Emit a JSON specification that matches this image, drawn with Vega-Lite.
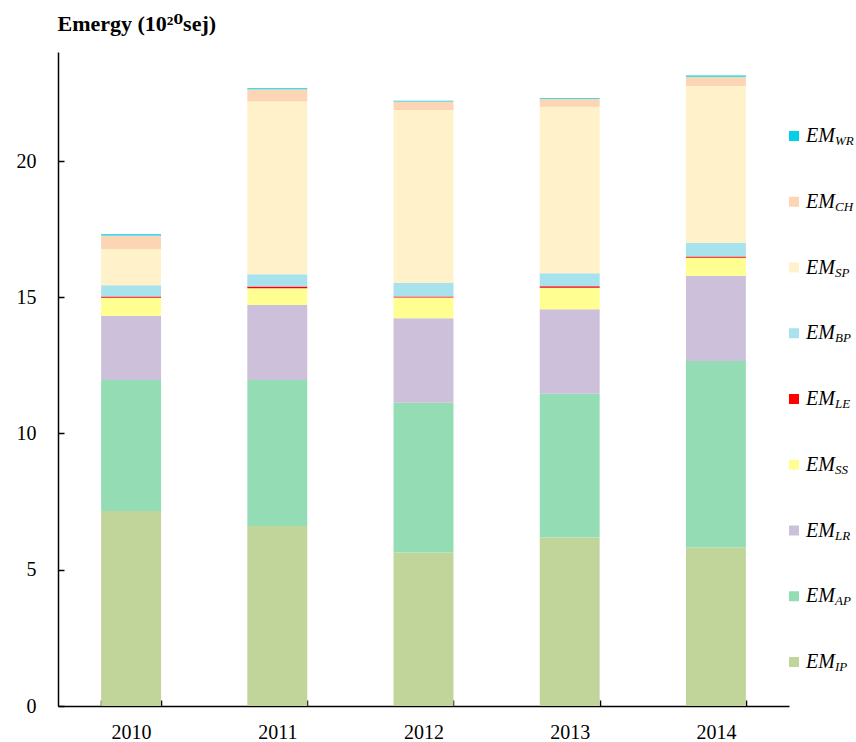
{
  "$schema": "https://vega.github.io/schema/vega-lite/v6.json",
  "background": "white",
  "padding": {"left": 16, "top": 12, "right": 0, "bottom": 0},
  "config": {
    "font": "Liberation Serif",
    "view": {"stroke": null},
    "concat": {"spacing": 0}
  },
  "datasets": {
    "emergy": [
      {"year": "2010", "series": "IP", "value": 7.16},
      {"year": "2010", "series": "AP", "value": 4.80},
      {"year": "2010", "series": "LR", "value": 2.36},
      {"year": "2010", "series": "SS", "value": 0.66},
      {"year": "2010", "series": "LE", "value": 0.05},
      {"year": "2010", "series": "BP", "value": 0.41},
      {"year": "2010", "series": "SP", "value": 1.33},
      {"year": "2010", "series": "CH", "value": 0.50},
      {"year": "2010", "series": "WR", "value": 0.04},
      {"year": "2011", "series": "IP", "value": 6.61},
      {"year": "2011", "series": "AP", "value": 5.35},
      {"year": "2011", "series": "LR", "value": 2.76},
      {"year": "2011", "series": "SS", "value": 0.61},
      {"year": "2011", "series": "LE", "value": 0.06},
      {"year": "2011", "series": "BP", "value": 0.45},
      {"year": "2011", "series": "SP", "value": 6.34},
      {"year": "2011", "series": "CH", "value": 0.45},
      {"year": "2011", "series": "WR", "value": 0.04},
      {"year": "2012", "series": "IP", "value": 5.63},
      {"year": "2012", "series": "AP", "value": 5.50},
      {"year": "2012", "series": "LR", "value": 3.10},
      {"year": "2012", "series": "SS", "value": 0.76},
      {"year": "2012", "series": "LE", "value": 0.04},
      {"year": "2012", "series": "BP", "value": 0.50},
      {"year": "2012", "series": "SP", "value": 6.34},
      {"year": "2012", "series": "CH", "value": 0.31},
      {"year": "2012", "series": "WR", "value": 0.03},
      {"year": "2013", "series": "IP", "value": 6.18},
      {"year": "2013", "series": "AP", "value": 5.28},
      {"year": "2013", "series": "LR", "value": 3.10},
      {"year": "2013", "series": "SS", "value": 0.79},
      {"year": "2013", "series": "LE", "value": 0.05},
      {"year": "2013", "series": "BP", "value": 0.48},
      {"year": "2013", "series": "SP", "value": 6.11},
      {"year": "2013", "series": "CH", "value": 0.29},
      {"year": "2013", "series": "WR", "value": 0.03},
      {"year": "2014", "series": "IP", "value": 5.83},
      {"year": "2014", "series": "AP", "value": 6.83},
      {"year": "2014", "series": "LR", "value": 3.13},
      {"year": "2014", "series": "SS", "value": 0.66},
      {"year": "2014", "series": "LE", "value": 0.05},
      {"year": "2014", "series": "BP", "value": 0.50},
      {"year": "2014", "series": "SP", "value": 5.75},
      {"year": "2014", "series": "CH", "value": 0.34},
      {"year": "2014", "series": "WR", "value": 0.05}
    ],
    "series": [
      {"series": "IP", "sub": "IP", "rank": 1},
      {"series": "AP", "sub": "AP", "rank": 2},
      {"series": "LR", "sub": "LR", "rank": 3},
      {"series": "SS", "sub": "SS", "rank": 4},
      {"series": "LE", "sub": "LE", "rank": 5},
      {"series": "BP", "sub": "BP", "rank": 6},
      {"series": "SP", "sub": "SP", "rank": 7},
      {"series": "CH", "sub": "CH", "rank": 8},
      {"series": "WR", "sub": "WR", "rank": 9}
    ]
  },
  "hconcat": [
    {
      "width": 731,
      "height": 654,
      "data": {"name": "emergy"},
      "transform": [
        {"lookup": "series", "from": {"data": {"name": "series"}, "key": "series", "fields": ["rank"]}}
      ],
      "mark": {"type": "bar"},
      "encoding": {
        "x": {
          "field": "year", "type": "ordinal",
          "scale": {"paddingInner": 0.59, "paddingOuter": 0.295},
          "axis": {
            "title": null, "labelAngle": 0, "tickBand": "extent",
            "tickSize": -6, "tickWidth": 1.5, "tickColor": "black",
            "domainColor": "black", "domainWidth": 1.5,
            "labelFont": "Liberation Serif", "labelFontSize": 20, "labelColor": "black",
            "labelPadding": 22
          }
        },
        "y": {
          "field": "value", "type": "quantitative", "stack": "zero",
          "scale": {"domain": [0, 24], "nice": false},
          "axis": {
            "values": [0, 5, 10, 15, 20], "grid": false,
            "tickSize": -6, "tickWidth": 1.5, "tickColor": "black",
            "domainColor": "black", "domainWidth": 1.5,
            "labelFont": "Liberation Serif", "labelFontSize": 20, "labelColor": "black",
            "labelPadding": 28,
            "title": "Emergy (10²⁰sej)", "titleFont": "Liberation Serif, DejaVu Serif", "titleFontSize": 22,
            "titleFontWeight": "bold", "titleColor": "black", "titleAngle": 0,
            "titleAlign": "left", "titleBaseline": "alphabetic", "titleX": -1, "titleY": -22
          }
        },
        "color": {
          "field": "series", "type": "nominal",
          "scale": {
            "domain": ["IP", "AP", "LR", "SS", "LE", "BP", "SP", "CH", "WR"],
            "range": ["#c1d59b", "#94dcb4", "#ccc0da", "#ffff91", "#ff0000", "#a8e2ec", "#fff1c9", "#fcd5b5", "#00d0e8"]
          },
          "legend": null
        },
        "order": {"field": "rank", "type": "quantitative", "sort": "ascending"}
      }
    },
    {
      "width": 6,
      "height": 654,
      "data": {"name": "series"},
      "encoding": {
        "y": {
          "field": "series", "type": "nominal",
          "sort": ["WR", "CH", "SP", "BP", "LE", "SS", "LR", "AP", "IP"],
          "scale": {"type": "point", "range": [84, 610], "padding": 0},
          "axis": null
        }
      },
      "layer": [
        {
          "mark": {"type": "square", "size": 100, "filled": true, "opacity": 1},
          "encoding": {
            "color": {
              "field": "series", "type": "nominal",
              "scale": {
                "domain": ["IP", "AP", "LR", "SS", "LE", "BP", "SP", "CH", "WR"],
                "range": ["#c1d59b", "#94dcb4", "#ccc0da", "#ffff91", "#ff0000", "#a8e2ec", "#fff1c9", "#fcd5b5", "#00d0e8"]
              },
              "legend": null
            }
          }
        },
        {
          "mark": {"type": "text", "text": "EM", "font": "Liberation Serif", "fontStyle": "italic", "fontSize": 20, "align": "left", "baseline": "middle", "dx": 12, "color": "black"},
          "encoding": {}
        },
        {
          "mark": {"type": "text", "font": "Liberation Serif", "fontStyle": "italic", "fontSize": 13, "align": "left", "baseline": "middle", "dx": 41, "dy": 5, "color": "black"},
          "encoding": {"text": {"field": "sub", "type": "nominal"}}
        }
      ]
    }
  ]
}
